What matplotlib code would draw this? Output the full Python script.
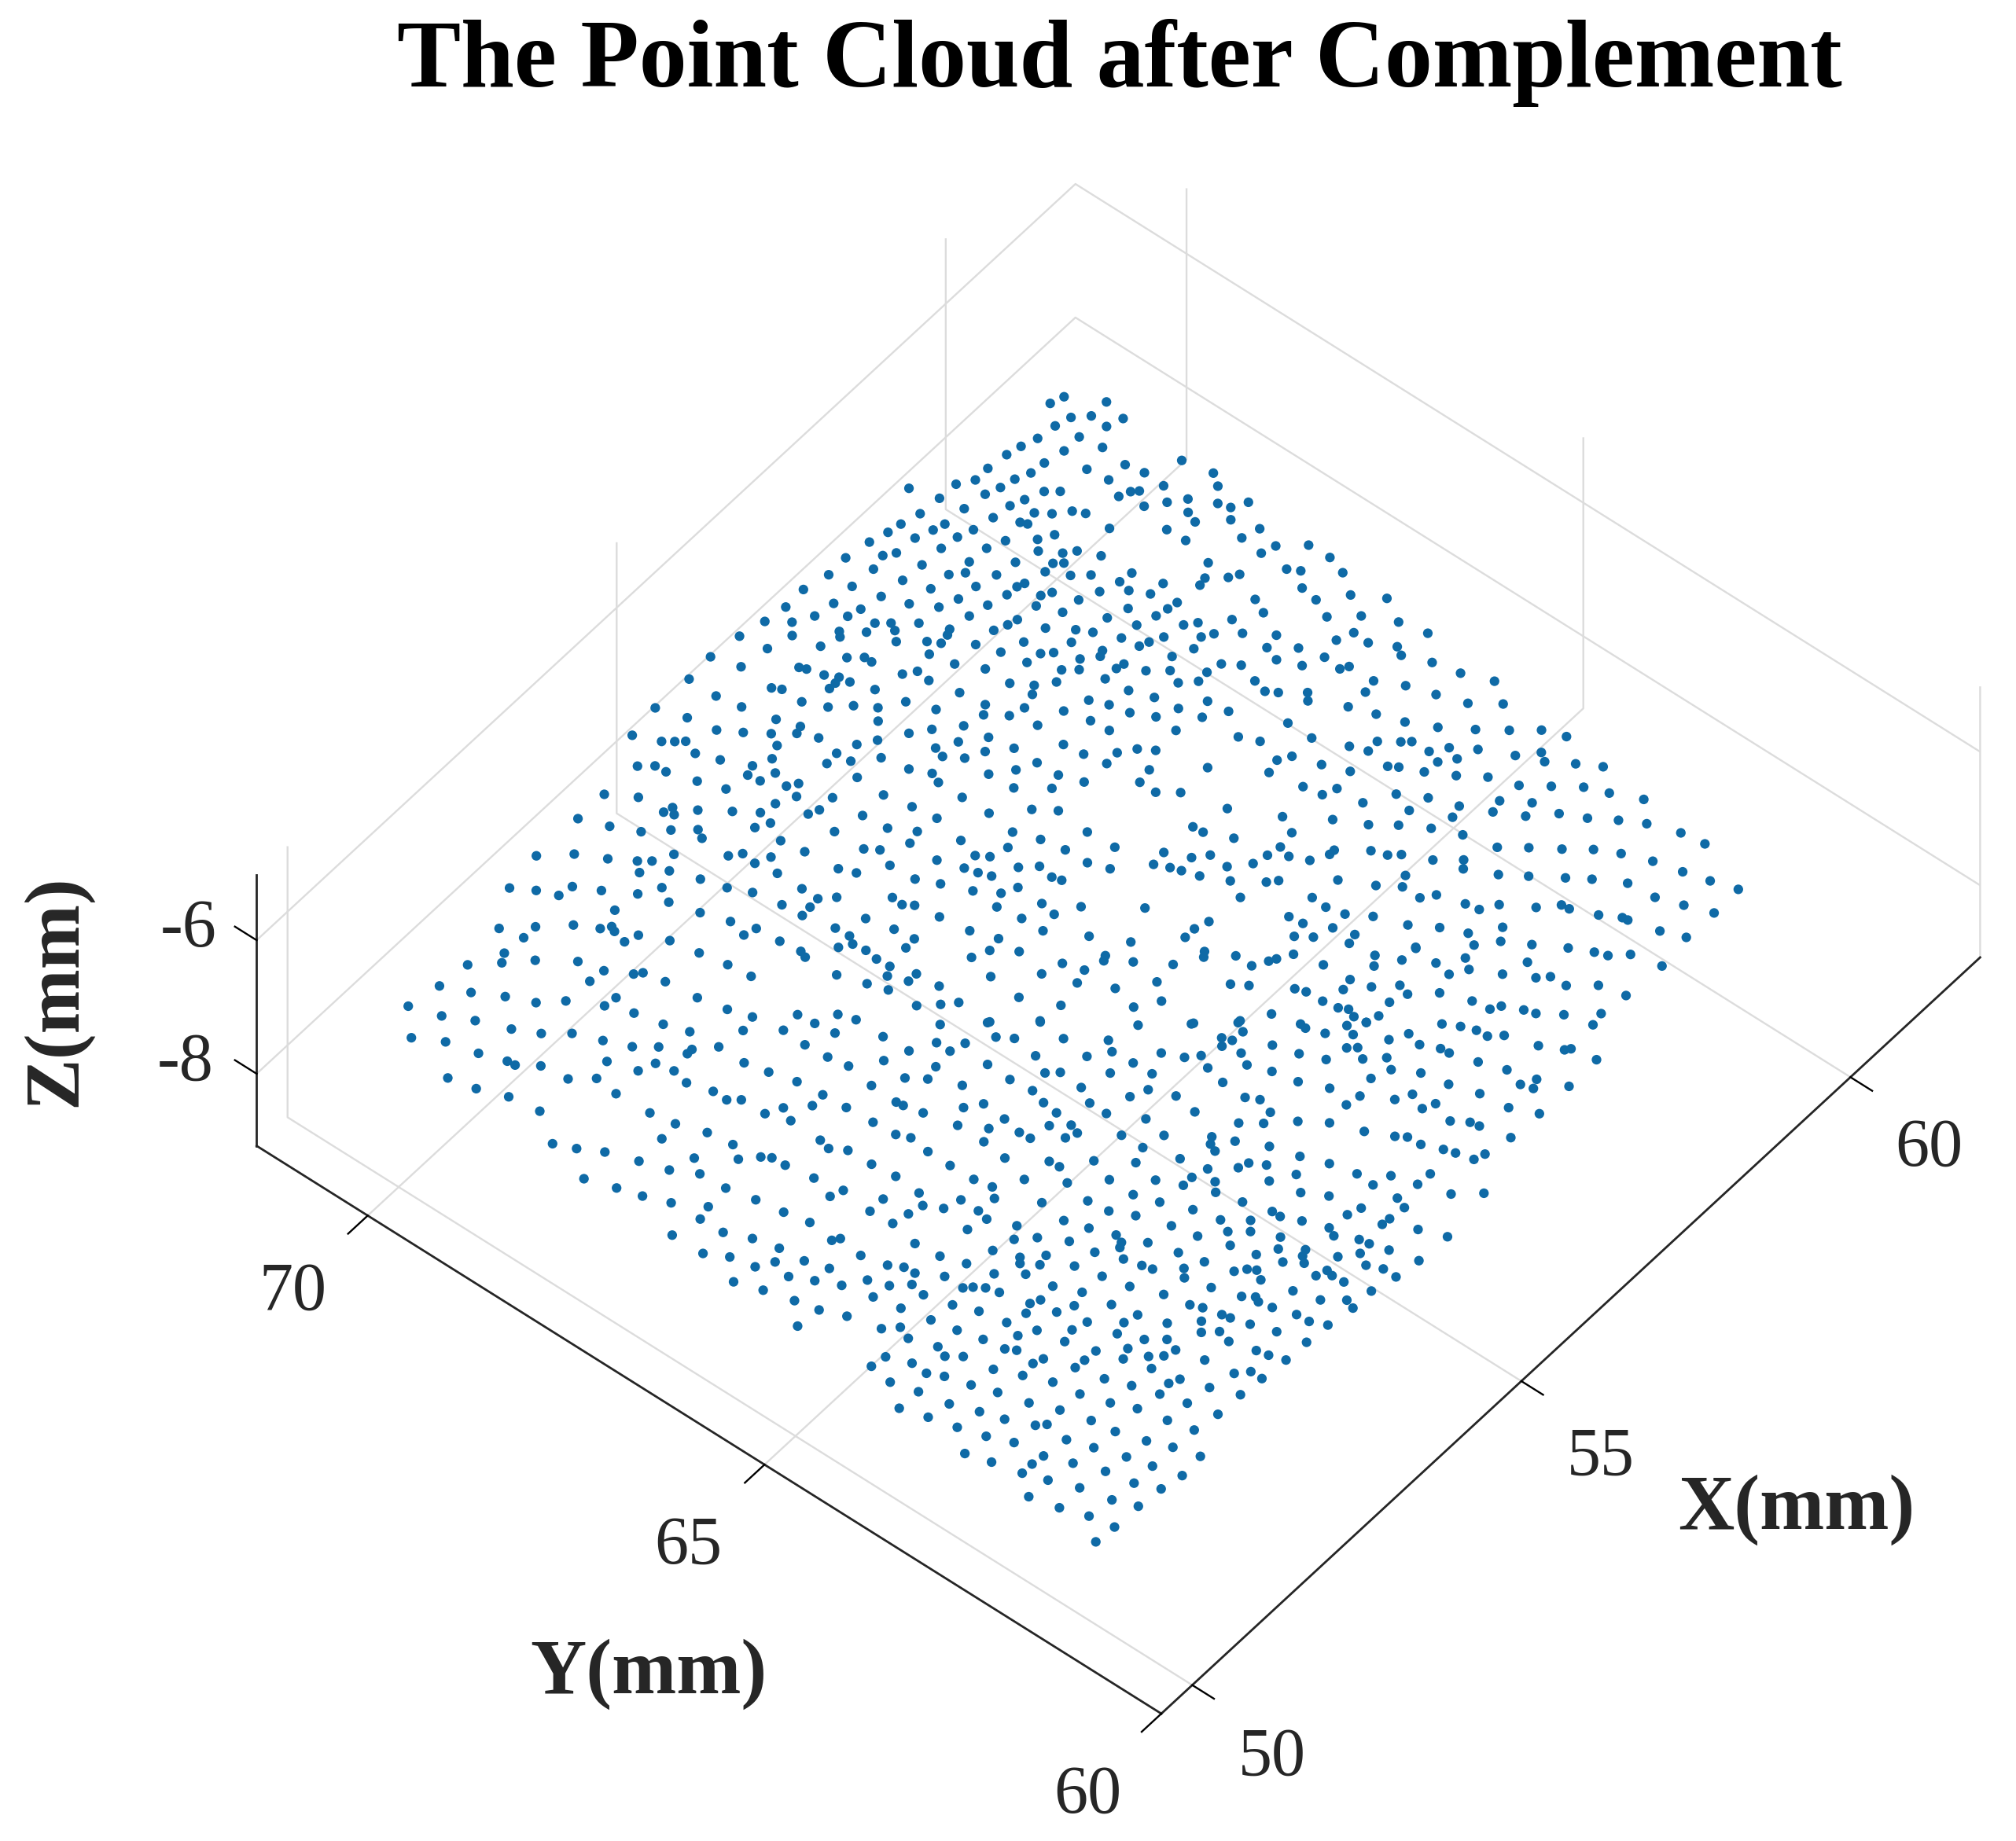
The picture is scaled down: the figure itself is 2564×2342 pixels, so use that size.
import matplotlib
matplotlib.use("Agg")
import matplotlib.pyplot as plt
from mpl_toolkits.mplot3d import proj3d

# x, y of each dot in mm (rear part first)
cloud_rear = [
(60.49,70.49),(60.64,70.44),(60.85,70.08),(60.48,70.22),(60.62,70.08),(60.79,69.82),(60.30,70.27),(60.61,69.88),
(60.34,70.00),(60.07,70.30),(59.89,70.36),(60.38,69.74),(60.11,70.00),(59.72,70.40),(59.87,70.05),(59.47,70.43),
(60.07,69.68),(60.35,69.43),(60.74,69.04),(60.81,68.70),(60.39,69.22),(59.69,70.07),(59.53,70.14),(60.10,69.43),
(59.28,70.43),(59.12,70.54),(59.36,70.18),(58.79,70.86),(60.38,68.97),(60.71,68.56),(59.59,69.82),(59.69,69.70),
(60.12,69.17),(60.18,69.11),(59.20,70.24),(60.00,69.22),(59.39,69.90),(58.88,70.55),(60.40,68.68),(60.74,68.20),
(60.24,68.81),(60.54,68.42),(59.24,69.96),(60.06,68.95),(58.93,70.28),(60.58,68.29),(59.57,69.45),(60.27,68.57),
(59.32,69.72),(59.42,69.58),(59.63,69.33),(58.61,70.57),(59.02,69.99),(60.46,68.19),(59.14,69.75),(59.17,69.68),
(60.22,68.44),(58.39,70.63),(58.66,70.30),(59.63,69.03),(60.55,67.90),(58.53,70.34),(58.78,70.04),(59.97,68.59),
(58.23,70.66),(59.23,69.39),(58.61,70.10),(58.34,70.41),(60.35,67.96),(59.08,69.48),(59.98,68.36),(58.87,69.71),
(58.02,70.72),(60.48,67.64),(60.69,67.40),(58.68,69.79),(58.40,70.13),(58.97,69.38),(59.21,69.09),(58.08,70.43),
(59.10,69.18),(60.32,67.69),(57.97,70.51),(59.31,68.87),(60.70,67.14),(58.44,69.81),(58.72,69.46),(59.90,68.01),
(58.94,69.17),(59.01,69.09),(58.12,70.14),(57.78,70.47),(60.32,67.37),(60.39,67.25),(58.31,69.75),(58.81,69.16),
(60.63,66.92),(59.33,68.50),(58.19,69.86),(58.48,69.50),(59.98,67.68),(59.06,68.79),(58.93,68.94),(59.88,67.74),
(59.73,67.91),(57.85,70.16),(59.17,68.52),(58.57,69.22),(59.42,68.18),(59.63,67.89),(58.24,69.56),(58.49,69.25),
(60.23,67.10),(57.94,69.88),(59.14,68.38),(58.95,68.59),(59.24,68.19),(58.65,68.94),(58.35,69.26),(58.55,69.00),
(57.56,70.19),(60.46,66.68),(60.65,66.38),(58.01,69.59),(59.83,67.36),(60.20,66.90),(58.74,68.68),(59.32,67.92),
(57.66,69.92),(58.13,69.32),(58.42,68.95),(57.81,69.67),(59.20,67.94),(58.96,68.24),(59.75,67.19),(58.52,68.70),
(57.91,69.37),(59.06,67.97),(60.32,66.43),(58.74,68.32),(60.10,66.68),(59.49,67.37),(58.17,68.98),(60.49,66.10),
(57.26,70.02),(57.36,69.90),(57.53,69.69),(59.25,67.60),(59.14,67.69),(58.06,69.01),(58.85,68.04),(57.66,69.41),
(58.26,68.70),(57.92,69.07),(58.43,68.46),(57.31,69.81),(58.51,68.31),(60.11,66.35),(59.42,67.18),(59.24,67.39),
(57.59,69.38),(59.61,66.91),(59.13,67.46),(58.90,67.74),(58.63,68.05),(59.93,66.42),(57.21,69.71),(57.99,68.75),
(57.40,69.48),(58.76,67.81),(58.28,68.39),(60.10,66.16),(57.47,69.36),(58.66,67.85),(57.67,69.09),(60.24,65.91),
(59.43,66.88),(59.62,66.64),(58.97,67.42),(58.39,68.09),(57.75,68.84),(57.98,68.53),(58.07,68.44),(57.29,69.36),
(60.18,65.81),(58.32,68.06),(58.76,67.52),(59.69,66.37),(58.17,68.19),(59.37,66.71),(56.86,69.73),(57.81,68.56),
(57.35,69.09),(58.99,67.09),(58.39,67.82),(59.75,66.11),(59.10,66.93),(59.47,66.47),(58.30,67.84),(59.67,66.16),
(57.49,68.82),(57.05,69.31),(57.95,68.24),(58.06,68.11),(58.46,67.60),(58.61,67.42),(56.93,69.40),(58.82,67.13),
(58.13,67.84),(57.03,69.15),(59.03,66.70),(58.68,67.12),(59.76,65.81),(57.80,68.18),(58.54,67.26),(57.50,68.52),
(57.63,68.32),(59.91,65.53),(56.61,69.48),(58.16,67.57),(58.99,66.54),(59.60,65.78),(57.10,68.82),(59.06,66.43),
(59.24,66.21),(57.53,68.26),(58.25,67.32),(57.82,67.79),(56.68,69.15),(58.54,66.89),(59.16,66.14),(57.90,67.60),
(57.14,68.53),(59.35,65.79),(56.45,69.31),(57.35,68.21),(58.29,67.05),(56.79,68.86),(57.56,67.89),(58.57,66.65),
(57.95,67.38),(59.45,65.52),(57.03,68.46),(57.18,68.26),(58.07,67.15),(58.35,66.80),(56.32,69.20),(57.63,67.61),
(59.55,65.24),(58.82,66.11),(56.80,68.52),(57.26,67.97),(56.57,68.73),(57.65,67.39),(58.06,66.89),(56.39,68.87),
(58.38,66.37),(56.84,68.24),(58.82,65.81),(58.47,66.17),(56.13,69.05),(56.61,68.43),(59.19,65.29),(59.33,65.11),
(59.40,65.03),(57.23,67.62),(56.41,68.55),(56.89,67.96),(57.64,67.03),(57.74,66.88),(58.97,65.46),(56.68,68.15),
(59.04,65.28),(57.48,67.15),(57.26,67.39),(58.52,65.81),(56.37,68.43),(55.98,68.88),(56.49,68.25),(58.39,65.89),
(56.89,67.67),(57.31,67.14),(58.62,65.52),(59.01,65.01),(59.07,64.92),(57.89,66.35),(56.04,68.58),(56.69,67.77),
(57.51,66.77),(58.73,65.25),(58.22,65.85),(56.14,68.37),(56.48,67.94),(56.90,67.41),(56.09,68.25),(56.99,67.16),
(57.33,66.74),(56.50,67.64),(58.29,65.48),(56.73,67.35),(58.48,65.21),(57.33,66.54),(57.48,66.35),(55.63,68.56),
(58.79,64.72),(58.33,65.27),(56.09,67.95),(58.50,64.90),(55.69,68.25),(57.61,65.87),(56.40,67.33),(56.55,67.12),
(58.71,64.49),(56.10,67.62),(57.87,65.39),(55.73,67.97),(58.15,64.99),(58.32,64.68),(55.33,68.26),(58.50,64.45),
(57.22,65.98),(57.23,65.86),(55.48,68.01),(56.06,67.29),(56.52,66.73),(57.77,65.19),(57.36,65.58),(56.16,67.02),
(55.66,67.61),(55.32,67.97),(57.56,65.16),(55.88,67.20),(56.54,66.40),(55.07,68.14),(56.21,66.75),(57.86,64.73),
(58.08,64.45),(56.79,65.99),(57.79,64.73),(55.60,67.38),(55.68,67.26),(58.14,64.29),(58.23,64.19),(57.05,65.62),
(57.40,65.19),(57.52,65.02),(56.91,65.74),(55.32,67.63),(57.61,64.83),(56.22,66.48),(54.98,67.94),(57.23,65.23),
(56.61,65.97),(55.89,66.81),(55.75,66.96),(57.04,65.40),(56.68,65.82),(55.41,67.36),(56.30,66.26),(56.72,65.71),
(55.45,67.22),(55.50,67.09),(56.78,65.53),(55.00,67.64),(55.86,66.63),(55.89,66.53),(58.05,63.99),(57.59,64.46),
(56.92,65.26),(57.13,64.98),(57.22,64.90),(55.11,67.41),(57.77,64.13),(57.92,63.92),(55.55,66.80),(55.24,67.11),
(55.39,66.88),(54.68,67.66),(56.82,65.05),(57.26,64.51),
]

cloud_upper_left = [
(57.72,70.77),(57.45,70.76),(57.48,70.49),(57.15,70.83),(57.20,70.49),(56.87,70.82),(57.31,70.24),(56.96,70.53),
(57.16,70.28),(56.60,70.86),(56.76,70.65),(57.12,70.01),(56.96,70.22),(56.91,70.17),(56.30,70.93),(56.63,70.54),
(56.35,70.62),(56.70,70.24),(55.92,70.98),(56.75,69.95),(56.86,69.82),(56.01,70.67),(56.36,70.23),(56.39,70.16),
(56.44,69.98),(56.51,69.85),(56.43,69.83),(56.34,69.83),(56.53,69.73),(55.57,70.96),(55.99,70.27),(56.04,70.18),
(55.57,70.62),(56.04,69.93),(55.08,70.98),(55.62,70.34),(56.15,69.69),(56.32,69.51),(55.18,70.66),(55.71,69.98),
(55.79,69.74),(55.70,69.71),(54.67,70.93),(55.24,70.34),(55.38,70.12),(55.54,69.90),(55.79,69.51),(54.79,70.66),
(54.87,70.56),(54.94,70.48),(55.96,69.17),(55.46,69.76),(54.88,70.31),(55.75,69.25),(55.30,69.69),(54.97,70.07),
(55.76,69.08),(55.59,69.24),(54.40,70.64),(54.51,70.51),(55.11,69.78),(54.52,70.38),(55.18,69.55),(54.99,69.74),
(55.64,68.90),(55.01,69.60),(54.62,70.07),(55.22,69.29),(55.12,69.36),
]

cloud_left = [
(53.92,70.66),(54.10,70.38),(54.72,69.79),(55.08,69.20),(54.21,70.04),(53.52,70.66),(54.11,70.07),(54.15,69.97),
(54.34,69.83),(54.54,69.56),(54.70,69.34),(54.88,69.30),(54.98,68.97),(55.09,68.92),(55.29,68.92),(55.30,68.55),
(53.64,70.36),(53.78,70.08),(53.98,69.87),(54.15,69.67),(54.09,69.57),(54.52,69.26),(54.66,69.18),(54.55,68.96),
(54.97,68.63),(52.90,70.67),(53.15,70.40),(53.31,70.11),(53.47,69.87),(53.56,69.76),(53.76,69.65),(54.08,69.23),
(54.19,69.14),(54.33,68.90),(54.59,68.69),(54.98,68.27),(54.17,68.97),(53.37,69.76),(53.57,69.55),(54.63,68.30),
(54.21,68.72),(54.70,68.13),(53.68,69.25),(52.42,70.61),(52.82,70.15),(52.56,70.39),(52.96,69.90),(53.36,69.47),
(53.76,68.98),(54.21,68.41),(52.65,70.18),(53.15,69.60),(53.87,68.75),(53.26,69.30),(54.34,68.08),(54.21,68.21),
(53.93,68.43),(54.08,68.20),(52.85,69.64),(53.35,68.98),(53.95,68.19),(54.67,67.53),(54.74,67.43),(54.31,67.69),
(54.78,67.15),(51.96,70.36),(52.20,70.10),(52.45,69.83),(52.02,70.10),(52.58,69.60),(52.67,69.53),(52.64,69.47),
(53.45,68.68),(53.54,68.43),(52.60,69.31),(52.75,69.26),(53.40,68.47),(54.03,67.84),(54.38,67.39),(54.04,67.67),
(54.41,67.16),(52.89,68.98),(53.56,68.15),(53.98,67.58),(53.86,67.66),(54.00,67.43),(54.27,67.15),(51.75,70.12),
(52.95,68.66),(53.59,67.91),(53.56,67.83),(51.87,69.83),(52.12,69.50),(51.64,70.06),(51.41,70.30),(53.01,68.35),
(53.98,67.28),(53.99,67.12),(52.19,69.23),(52.34,68.98),(52.41,68.92),(53.04,68.08),(53.58,67.45),(53.88,67.06),
(54.08,66.86),(52.00,69.25),(52.46,68.68),(53.96,66.86),(53.68,67.15),(51.03,70.34),(54.10,66.59),(51.16,70.05),
(53.75,66.94),(51.33,69.76),(52.00,68.92),(52.50,68.31),(51.66,69.27),(51.46,69.48),(50.64,70.41),(51.85,68.94),
(53.77,66.60),(53.93,66.43),(52.57,67.99),(51.96,68.66),(52.95,67.42),(53.20,67.12),(50.75,70.08),(52.65,67.74),
(50.91,69.79),(53.26,66.94),(52.97,67.22),(52.03,68.35),(51.05,69.45),(52.46,67.70),(52.71,67.40),(52.12,68.09),
(51.19,69.19),(51.38,68.96),(53.00,66.99),(50.35,70.13),(50.52,69.84),(51.50,68.67),(52.70,67.12),(52.15,67.75),
(51.62,68.40),(51.78,68.20),(51.96,67.93),(51.89,67.93),(50.61,69.50),(52.72,66.85),(51.32,68.47),(50.71,69.22),
(50.72,69.13),(52.15,67.43),(51.60,68.09),(50.87,68.93),(52.76,66.62),(51.42,68.16),(51.64,67.89),(52.21,67.17),
(50.18,69.53),(50.91,68.62),(51.09,68.41),(51.60,67.70),(52.29,66.88),(50.25,69.23),(51.68,67.43),(51.06,68.14),
(52.32,66.58),(50.37,68.92),(51.68,67.26),(51.77,67.15),(52.15,66.57),(51.95,66.77),(52.34,66.30),(50.42,68.57),
(51.08,67.73),(51.78,66.86),(51.87,66.61),(51.13,67.45),(51.24,67.14),(50.90,67.43),(51.86,66.23),(50.18,68.21),
(51.28,66.85),(50.28,67.99),(51.83,66.10),(51.93,65.94),(50.42,67.75),(50.91,67.03),(51.17,66.69),(51.33,66.54),
(51.39,66.45),(50.54,67.42),(51.40,66.29),(50.64,67.12),(50.79,66.86),(50.03,67.69),(51.45,65.97),(50.14,67.37),
(50.81,66.55),(51.51,65.65),(50.22,67.11),(51.37,65.70),(50.88,66.23),(50.33,66.84),(50.52,66.53),(50.93,65.92),
(50.35,66.49),(50.99,65.64),(50.36,66.21),(50.02,66.57),(50.48,65.94),(50.95,65.33),(51.02,65.28),(50.55,65.66),
(50.98,64.99),(50.03,66.19),(50.16,65.96),(50.58,65.37),(50.39,65.58),(50.22,65.69),(50.66,65.12),(50.33,65.36),
(50.45,65.13),(50.57,64.89),(49.94,65.73),(50.04,65.44),(50.13,65.12),(50.19,64.86),(50.30,64.60),(49.90,64.89),
]

cloud_middle = [
(55.23,66.80),(55.54,66.49),(55.75,66.17),(56.13,65.68),(55.51,66.31),(55.27,66.52),(56.39,65.09),(56.93,64.53),
(57.25,64.33),(57.30,64.13),(57.45,63.90),(56.95,64.37),(56.23,65.14),(57.09,64.11),(57.58,63.57),(54.83,66.81),
(55.28,66.26),(55.51,65.87),(56.09,65.14),(54.93,66.53),(56.77,64.33),(56.88,64.18),(57.16,63.89),(55.71,65.51),
(57.04,63.86),(54.76,66.50),(54.93,66.27),(56.07,64.88),(55.42,65.59),(56.22,64.61),(56.01,64.84),(56.59,64.19),
(57.40,63.32),(57.08,63.57),(54.58,66.58),(55.36,65.56),(56.44,64.28),(56.37,64.32),(57.20,63.33),(55.08,65.85),
(55.53,65.33),(55.75,65.01),(56.22,64.41),(56.67,63.88),(56.97,63.49),(55.15,65.63),(54.85,65.92),(54.51,66.28),
(56.69,63.56),(54.98,65.58),(55.48,64.99),(55.91,64.42),(56.01,64.27),(56.26,63.90),(56.55,63.53),(56.75,63.34),
(56.94,63.14),(55.16,65.25),(56.30,63.79),(56.90,63.01),(54.48,65.90),(55.32,64.80),(56.31,63.59),(56.71,63.08),
(54.06,66.31),(54.66,65.52),(55.09,64.96),(56.34,63.42),(56.39,63.33),(55.87,63.87),(56.51,63.05),(56.35,63.23),
(55.61,64.05),(56.37,63.09),(54.06,65.92),(54.38,65.55),(55.30,64.38),
]

cloud_front = [
(53.73,66.27),(54.04,65.93),(54.37,65.54),(54.94,64.78),(55.28,64.39),(55.58,64.05),(55.95,63.57),(55.94,63.50),
(55.52,63.94),(56.01,63.31),(53.26,66.60),(53.95,65.75),(54.05,65.60),(54.35,65.23),(54.61,64.88),(55.33,64.05),
(55.37,63.95),(53.53,66.15),(53.70,65.93),(55.25,63.98),(55.57,63.61),(53.28,66.29),(53.53,65.98),(54.52,64.76),
(54.81,64.38),(55.30,63.78),(55.65,63.34),(54.01,65.30),(54.32,64.91),(54.91,64.17),(55.03,64.06),(55.76,63.09),
(53.03,66.40),(54.54,64.51),(53.63,65.59),(55.22,63.64),(53.29,65.96),(54.95,63.91),(55.31,63.40),(53.90,65.09),
(54.00,64.98),(54.30,64.60),(54.55,64.28),(52.99,66.10),(53.12,65.92),(53.62,65.30),(55.37,63.12),(54.90,63.68),
(52.71,66.29),(53.27,65.61),(53.98,64.70),(55.50,62.83),(53.65,65.04),(54.37,64.18),(54.48,63.92),(54.19,64.26),
(54.89,63.39),(54.96,63.26),(52.70,65.97),(52.71,65.89),(53.88,64.51),(53.60,64.86),(53.22,65.30),(53.06,65.42),
(53.88,64.30),(53.58,64.68),(54.44,63.65),(54.90,63.08),(52.76,65.68),(53.20,65.02),(54.07,63.96),(52.36,65.98),
(54.98,62.80),(55.16,62.55),(54.60,63.23),(54.75,63.04),(52.85,65.32),(53.55,64.47),(53.41,64.63),(53.01,65.06),
(53.51,64.36),(53.16,64.80),(52.38,65.71),(53.76,64.01),(54.02,63.69),(54.30,63.32),(52.44,65.57),(53.17,64.67),
(53.39,64.41),(52.85,64.99),(54.40,63.11),(54.22,63.27),(53.77,63.75),(54.56,62.81),(54.18,63.18),(52.41,65.33),
(54.65,62.50),(52.82,64.70),(53.89,63.38),(53.06,64.34),(53.34,64.01),(53.58,63.68),(54.27,62.83),(51.94,65.65),
(52.41,65.05),(53.07,64.22),(54.36,62.68),(54.76,62.22),(54.16,62.87),(53.96,63.09),(54.45,62.38),(51.97,65.37),
(53.78,63.14),(52.42,64.76),(52.73,64.38),(53.25,63.74),(53.53,63.39),(54.22,62.53),(53.88,62.93),(52.96,64.03),
(53.65,63.14),(54.82,61.72),(52.46,64.56),(51.95,65.06),(53.78,62.84),(54.30,62.20),(53.25,63.44),(54.44,61.96),
(51.67,65.28),(52.36,64.45),(52.14,64.69),(54.84,61.43),(52.91,63.73),(53.34,63.18),(53.85,62.56),(52.61,64.06),
(51.85,64.93),(54.79,61.30),(51.95,64.75),(54.52,61.62),(53.47,62.87),(52.94,63.49),(52.14,64.47),(51.47,65.28),
(53.94,62.26),(51.68,64.97),(54.37,61.67),(53.94,62.16),(53.06,63.25),(52.11,64.34),(53.54,62.58),(52.57,63.75),
(53.72,62.35),(54.03,61.96),(54.59,61.32),(54.49,61.33),(51.49,65.01),(52.23,64.06),(53.18,62.90),(52.65,63.50),
(51.89,64.40),(53.47,62.43),(53.61,62.26),(54.13,61.70),(54.08,61.60),(52.75,63.24),(53.24,62.62),(53.74,61.99),
(52.24,63.81),(52.08,63.97),(52.40,63.54),(54.20,61.38),(52.71,63.14),(51.43,64.68),(52.87,62.94),(54.22,61.27),
(52.65,63.11),(53.35,62.30),(53.61,61.91),(53.77,61.70),(51.84,64.04),(54.28,61.07),(52.45,63.26),(52.96,62.63),
(54.07,61.26),(51.46,64.39),(52.12,63.60),(53.42,62.03),(53.69,61.67),(51.94,63.78),(53.90,61.40),(52.56,62.99),
(53.03,62.36),(53.51,61.77),(53.63,61.60),(51.88,63.73),(51.55,64.13),(51.05,64.71),(51.99,63.57),(52.19,63.30),
(52.61,62.80),(53.99,61.12),(51.13,64.57),(52.64,62.69),(53.22,61.98),(52.84,62.46),(53.27,61.90),(54.06,60.96),
(53.12,62.06),(53.70,61.37),(51.14,64.44),(51.62,63.84),(51.81,63.60),(53.58,61.41),(51.29,64.19),(52.26,63.01),
(53.68,61.29),(54.06,60.80),(52.75,62.38),(53.20,61.79),(50.78,64.74),(53.69,61.15),(50.86,64.53),(51.01,64.37),
(51.29,63.96),(51.36,63.89),(51.43,63.79),(51.86,63.30),(52.33,62.72),(52.82,62.10),(51.47,63.65),(51.98,63.03),
(53.29,61.46),(53.77,60.87),(52.46,62.40),(50.98,64.20),(50.65,64.56),(52.92,61.80),(53.00,61.69),(53.37,61.18),
(53.53,60.98),(51.65,63.28),(51.55,63.33),(52.97,61.63),(52.04,62.71),(51.06,63.90),(51.80,62.98),(52.52,62.12),
(52.57,62.00),(53.00,61.48),(53.49,60.87),(50.71,64.26),(51.16,63.65),(51.63,63.06),(51.43,63.28),(52.10,62.43),
(52.62,61.80),(53.08,61.24),(52.64,61.71),(50.78,63.94),(51.22,63.35),(53.09,61.09),(51.72,62.75),(51.94,62.47),
(52.20,62.14),(52.43,61.90),(52.70,61.51),(53.17,60.92),(50.39,64.24),(50.52,64.11),(50.84,63.66),(51.33,63.06),
(51.55,62.80),(52.32,61.81),(52.44,61.68),(52.79,61.25),(51.79,62.43),(51.16,63.16),(50.46,63.96),(50.91,63.39),
(51.90,62.18),(52.04,62.01),(51.39,62.76),(52.40,61.53),(52.87,60.94),(50.56,63.67),(51.71,62.23),(50.95,63.15),
(51.01,63.05),(51.99,61.86),(51.49,62.45),(52.48,61.25),(50.51,63.54),(50.14,63.98),(50.62,63.40),(51.76,62.01),
(51.86,61.90),(52.51,61.12),(51.09,62.78),(51.58,62.18),(52.07,61.56),(52.57,60.95),(51.33,62.46),(50.24,63.73),
(50.98,62.82),(49.96,64.01),(51.20,62.47),(50.68,63.07),(51.66,61.89),(52.24,61.12),(50.23,63.54),(52.12,61.23),
(50.80,62.80),(50.31,63.38),(51.27,62.16),(51.73,61.59),(52.24,60.98),(49.92,63.74),(50.92,62.52),(51.62,61.64),
(50.39,63.11),(51.37,61.90),(51.83,61.30),(50.00,63.45),(50.48,62.85),(51.46,61.62),(50.97,62.22),(51.95,61.01),
(50.57,62.53),(51.07,61.92),(50.07,63.12),(51.54,61.34),(49.72,63.46),(51.18,61.67),(50.69,62.24),(50.18,62.83),
(51.62,61.02),(49.81,63.17),(50.26,62.58),(50.78,61.92),(51.25,61.35),(50.39,62.30),(50.47,62.22),(49.89,62.87),
(51.32,61.07),(50.82,61.65),(49.98,62.58),(50.44,61.95),(50.92,61.34),(50.09,62.32),(50.53,61.68),(51.02,61.09),
(49.68,62.60),(50.14,61.99),(50.64,61.36),(51.10,60.81),(49.76,62.33),(49.99,62.01),(50.25,61.71),(50.71,61.09),
(50.37,61.40),(49.84,62.01),(50.80,60.79),(49.93,61.76),(50.43,61.09),(50.05,61.46),(50.54,60.84),(49.65,61.77),
(50.13,61.12),(50.23,60.87),(49.73,61.45),(49.83,61.16),(49.88,60.88),(49.62,60.90),
]

cloud_right = [
(60.56,65.79),(60.30,65.52),(60.37,65.22),(60.50,64.90),(60.01,65.23),(60.12,64.92),(60.33,64.65),(59.70,64.95),
(59.91,64.65),(60.11,64.39),(60.31,64.15),(60.40,63.91),(59.57,64.70),(59.73,64.47),(59.41,64.82),(60.09,63.97),
(59.90,64.14),(59.51,64.55),(60.02,63.87),(59.36,64.67),(60.19,63.62),(60.33,63.39),(59.18,64.69),(59.34,64.42),
(59.52,64.17),(59.63,63.87),(59.82,63.62),(60.01,63.37),(60.11,63.13),(60.26,62.82),(58.95,64.45),(59.36,63.89),
(59.54,63.63),(59.06,64.15),(59.21,63.85),(59.60,63.34),(58.91,64.11),(59.37,63.57),(59.73,63.09),(59.90,62.84),
(60.04,62.60),(58.67,64.18),(60.16,62.27),(58.80,63.89),(60.20,62.00),(58.89,63.53),(59.08,63.29),(59.27,63.03),
(59.46,62.79),(59.59,62.55),(59.71,62.25),(58.56,63.68),(58.37,63.91),(58.47,63.61),(59.79,61.94),(58.63,63.30),
(58.80,63.06),(59.01,62.77),(59.16,62.56),(59.87,61.66),(59.34,62.26),(59.96,61.38),(58.05,63.60),(57.92,63.70),
(59.37,61.94),(58.14,63.31),(58.34,63.05),(58.72,62.58),(59.47,61.66),(58.17,63.16),(58.54,62.75),(58.73,62.49),
(59.58,61.37),(58.85,62.22),(58.97,62.02),(58.98,61.96),(57.75,63.31),(58.14,62.84),(59.07,61.63),(57.87,63.05),
(59.17,61.38),(57.99,62.74),(57.79,62.91),(58.15,62.48),(57.41,63.33),(58.34,62.18),(58.46,61.95),(58.51,61.82),
(58.66,61.66),(57.61,62.87),(57.95,62.37),(57.38,63.05),(58.74,61.33),(57.52,62.75),(57.35,62.86),(57.68,62.46),
(57.85,62.18),(57.95,62.08),(57.96,61.89),(58.16,61.65),(57.11,62.78),(58.23,61.36),(57.23,62.47),(57.36,62.21),
(57.26,62.27),(57.46,62.01),(57.50,61.89),(57.66,61.67),(57.90,61.40),(57.74,61.37),(56.82,62.51),(56.91,62.35),
(56.97,62.20),(56.98,62.07),(57.09,61.95),(57.20,61.61),(56.48,62.51),(56.57,62.32),(56.58,62.22),(57.32,61.38),
(57.37,61.34),(57.42,61.06),(56.67,61.93),(56.77,61.65),(56.21,62.27),(56.86,61.35),(56.27,61.97),(56.71,61.43),
(56.75,61.30),(56.99,61.05),(56.37,61.66),(56.41,61.33),(56.00,61.91),(55.87,61.97),(56.54,61.05),(55.92,61.66),
(56.03,61.50),(56.05,61.40),(56.13,61.07),(55.51,61.69),(55.60,61.48),(55.64,61.36),(55.81,61.13),(55.69,61.17),
(55.28,61.38),(56.22,63.21),(56.37,63.09),(56.17,63.09),(56.34,62.78),(56.52,62.68),(56.00,63.03),(56.07,62.95),
(55.99,62.82),(56.15,62.65),(56.06,62.52),(55.85,62.60),(55.61,62.54),(55.44,62.57),(55.79,62.25),(55.95,62.16),
(55.29,62.22),(55.43,61.95),(55.50,61.85),(54.83,61.93),(55.02,61.66),(55.10,61.39),(55.21,61.06),(55.42,60.82),
(54.66,61.02),(54.77,60.74),(54.36,60.76),
]
z_level = -7.26

x_ticks = [50, 55, 60]
y_ticks = [60, 65, 70]
z_ticks = [-8, -6]

cloud = cloud_rear + cloud_upper_left + cloud_left + cloud_middle + cloud_front + cloud_right
x_mm = [p[0] for p in cloud]
y_mm = [p[1] for p in cloud]

plt.rcParams['font.family'] = ['Liberation Serif', 'DejaVu Serif']
W, H = 2564, 2342
fig = plt.figure(figsize=(W / 100, H / 100), dpi=100)
ax = fig.add_axes([0, 0, 1, 1], projection='3d', proj_type='ortho')
ax.view_init(elev=49.6, azim=-140.5)
ax.set_xlim(49.53, 61.97, view_margin=0)
ax.set_ylim(60, 71.4, view_margin=0)
ax.set_zlim(-9.08, -5.02, view_margin=0)
ax.patch.set_alpha(0)

ax.scatter(x_mm, y_mm, [z_level] * len(x_mm), s=78, c='#0f6aa6', edgecolors='none', depthshade=False)

ax.set_xticks(x_ticks)
ax.set_yticks(y_ticks)
ax.set_zticks(z_ticks)
ax.set_xticklabels([''] * 3)
ax.set_yticklabels([''] * 3)
ax.set_zticklabels([''] * 2)
for axis in (ax.xaxis, ax.yaxis, ax.zaxis):
    axis.set_pane_color((1, 1, 1, 0))
    axis.pane.set_edgecolor('none')
    axis.line.set_color('#262626')
    axis._axinfo['axisline'].update(color='#262626', linewidth=2.0)
    axis.line.set_linewidth(2.0)
    axis._axinfo['grid'].update(color='#dcdcdc', linewidth=1.7)
    axis._axinfo['tick'].update(inward_factor=0.3, outward_factor=0, color='#262626', linewidth={True: 1.7, False: 1.0})
ax.zaxis.set_ticks_position('upper')
# z ticks point along y in the reference
ax.zaxis._get_tickdir = lambda pos: 1
ax.zaxis._axinfo['tick'].update(inward_factor=0, outward_factor=0.3)


def to_px(x, y, z):
    xs, ys, _ = proj3d.proj_transform(x, y, z, ax.get_proj())
    return ax.transData.transform((xs, ys))


# scale and place the box so its corners land like the reference
ax.set_box_aspect((1637, 1491, 532), zoom=1)
ax.apply_aspect()
left = to_px(49.53, 71.4, -9.08)
right = to_px(61.97, 60, -9.08)
ax.set_box_aspect((1637, 1491, 532), zoom=(2518 - 326) / (right[0] - left[0]))
ax.apply_aspect()
bottom = to_px(49.53, 60, -9.08)
dx = 1477 - bottom[0]
dy = (H - 2180) - bottom[1]
ax.set_position([dx / W, dy / H, 1, 1])

fig.text(0.5555, 1 - 80 / H, 'The Point Cloud after Complement', fontsize=87.7, fontweight='bold', ha='center', va='center', color='black')
labels = [('50', 1618, 2237), ('55', 2036, 1855), ('60', 2453, 1462),
          ('60', 1383, 2285), ('65', 875, 1968), ('70', 372, 1645),
          ('-6', 240, 1183), ('-8', 236, 1353)]
for txt, px, py in labels:
    fig.text(px / W, 1 - py / H, txt, fontsize=62, ha='center', va='center', color='#262626')
fig.text(2285 / W, 1 - 1921 / H, 'X(mm)', fontsize=71, fontweight='bold', ha='center', va='center', color='#262626')
fig.text(825 / W, 1 - 2130 / H, 'Y(mm)', fontsize=71, fontweight='bold', ha='center', va='center', color='#262626')
fig.text(72 / W, 1 - 1260 / H, 'Z(mm)', fontsize=71, fontweight='bold', rotation=90, ha='center', va='center', color='#262626')

fig.savefig('out.png', dpi=100)
